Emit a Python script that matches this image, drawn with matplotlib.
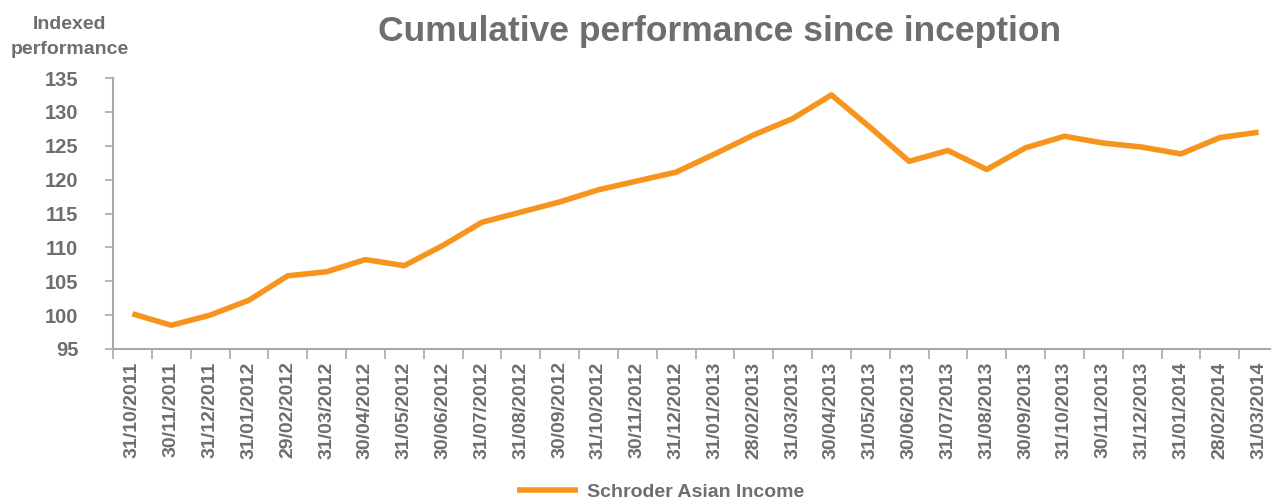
import matplotlib.pyplot as plt

plt.rcParams['font.family'] = ['Liberation Sans', 'DejaVu Sans']
plt.rcParams['font.weight'] = 'bold'

# data
dates = ["31/10/2011", "30/11/2011", "31/12/2011", "31/01/2012", "29/02/2012",
         "31/03/2012", "30/04/2012", "31/05/2012", "30/06/2012", "31/07/2012",
         "31/08/2012", "30/09/2012", "31/10/2012", "30/11/2012", "31/12/2012",
         "31/01/2013", "28/02/2013", "31/03/2013", "30/04/2013", "31/05/2013",
         "30/06/2013", "31/07/2013", "31/08/2013", "30/09/2013", "31/10/2013",
         "30/11/2013", "31/12/2013", "31/01/2014", "28/02/2014", "31/03/2014"]
values = [100.2, 98.5, 100.0, 102.2, 105.8, 106.4, 108.2, 107.3, 110.3, 113.7,
          115.2, 116.7, 118.5, 119.8, 121.1, 123.8, 126.6, 129.0, 132.5, 127.7,
          122.7, 124.3, 121.5, 124.7, 126.4, 125.4, 124.8, 123.8, 126.2, 127.0]
yticks = [95, 100, 105, 110, 115, 120, 125, 130, 135]

grey = "#6d6e71"
orange = "#f7941d"
axis_grey = "#a7a9ac"

fig = plt.figure(figsize=(12.71, 5.01), dpi=100)
ax = fig.add_axes([113 / 1271, 1 - 349 / 501, 1165 / 1271, 271 / 501])

x = list(range(len(dates)))
ax.plot(x, values, color=orange, linewidth=4, solid_joinstyle="round",
        solid_capstyle="butt", label="Schroder Asian Income")

ax.set_xlim(-0.5, len(dates) - 0.5)
ax.set_ylim(95, 135)
ax.set_yticks(yticks)

# ticks between categories, labels at the centres
ax.set_xticks([i - 0.5 for i in range(len(dates) + 1)])
ax.set_xticklabels([])
ax.set_xticks(x, minor=True)
ax.set_xticklabels(dates, minor=True, rotation=90, fontsize=14,
                   color=grey, fontweight="bold")
ax.tick_params(axis="x", which="minor", length=0, pad=9)
ax.tick_params(axis="x", which="major", length=7, color=axis_grey, width=1.2)
ax.tick_params(axis="y", length=6, color=axis_grey, width=1.2, labelsize=14.5,
               labelcolor=grey, pad=19)

for side in ["top", "right"]:
    ax.spines[side].set_visible(False)
for side in ["left", "bottom"]:
    ax.spines[side].set_color(axis_grey)
    ax.spines[side].set_linewidth(1.5)

fig.text(720 / 1271, 1 - 31 / 501, "Cumulative performance since inception",
         ha="center", va="center", fontsize=25.5, color=grey, fontweight="bold")
fig.text(70 / 1271, 1 - 37 / 501, "Indexed\nperformance", ha="center",
         va="center", fontsize=14, color=grey, fontweight="bold",
         linespacing=1.6)

leg = fig.legend(loc="center", bbox_to_anchor=(661 / 1271, 1 - 492 / 501),
                 frameon=False, fontsize=14, handlelength=3.1,
                 handletextpad=0.5)
for t in leg.get_texts():
    t.set_color(grey)
    t.set_fontweight("bold")

fig.savefig("out.png", dpi=100)
